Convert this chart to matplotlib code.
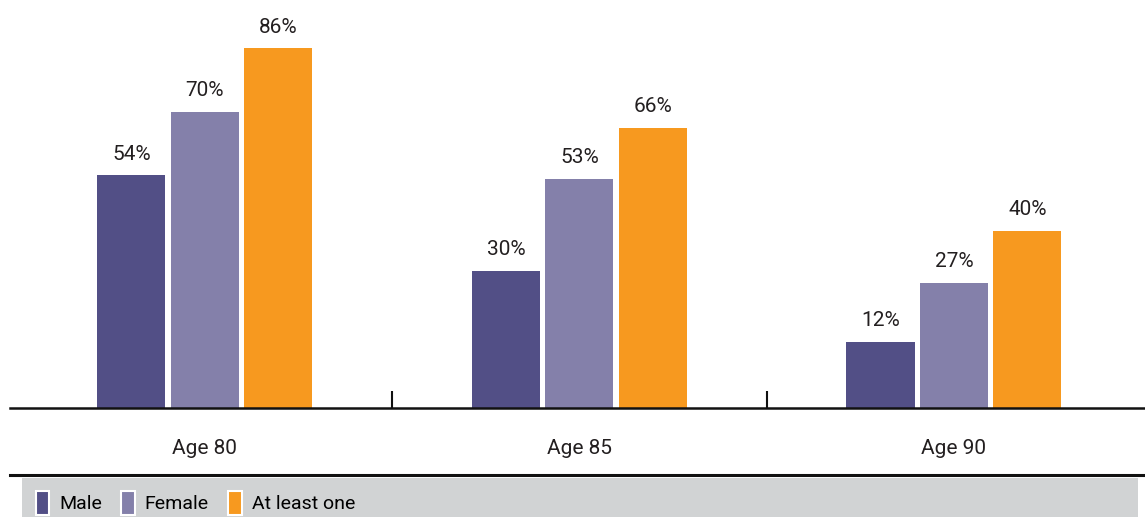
import numpy as np
import matplotlib.pyplot as plt
from matplotlib.patches import Patch
from matplotlib.lines import Line2D

plt.rcParams['font.family'] = ['Roboto', 'DejaVu Sans']

ages = ["Age 80", "Age 85", "Age 90"]
male = [54, 30, 12]
female = [70, 53, 27]
at_least_one = [86, 66, 40]

series = [("Male", male, "#524F86"),
          ("Female", female, "#8480AA"),
          ("At least one", at_least_one, "#F7991F")]

# the original chart's value axis starts a little below zero
base = -4.6

W, H = 1145, 517
fig = plt.figure(figsize=(W / 100, H / 100), dpi=100)
ax = fig.add_axes([10 / W, (H - 408) / H, 1 - 10 / W, 408 / H])

x = np.arange(len(ages))
width = 0.182
step = 0.196
for i, (name, vals, color) in enumerate(series):
    pos = x + (i - 1) * step
    vals = np.array(vals)
    bars = ax.bar(pos, vals - base, width, bottom=base, color=color, label=name)
    for b, v in zip(bars, vals):
        ax.text(b.get_x() + b.get_width() / 2, v + 3.0, f"{v}%",
                ha="center", va="bottom", fontsize=15, color="#231F20")

ax.set_xlim(-0.52, 2.51)
ax.set_ylim(base, 98.2)
ax.set_yticks([])
ax.set_xticks(x)
ax.set_xticklabels(ages, fontsize=15, color="#231F20")
ax.set_xticks([0.5, 1.5], minor=True)
ax.tick_params(axis="x", which="major", length=0, pad=22)
ax.tick_params(axis="x", which="minor", direction="in", length=12,
               width=1.5, color="#111111")
for s in ["top", "right", "left"]:
    ax.spines[s].set_visible(False)
ax.spines["bottom"].set_linewidth(1.8)
ax.spines["bottom"].set_color("#111111")

# separator line above legend
fig.add_artist(Line2D([10 / W, 1], [(H - 475) / H] * 2, color="#111111",
                      lw=2.2, transform=fig.transFigure))

# legend band
lax = fig.add_axes([22 / W, 0, (1138 - 22) / W, (H - 478) / H])
lax.set_facecolor("#D1D3D4")
lax.set_xticks([])
lax.set_yticks([])
for s in lax.spines.values():
    s.set_visible(False)

handles = [Patch(facecolor=c, edgecolor="white", linewidth=1.5, label=n)
           for n, _, c in series]
lax.legend(handles=handles, loc="center left", ncol=3, frameon=False,
           fontsize=14, handlelength=0.7, handleheight=1.5,
           handletextpad=0.5, columnspacing=1.0,
           bbox_to_anchor=(0.0, 0.36), borderaxespad=0.3)

fig.savefig("out.png", dpi=100)
